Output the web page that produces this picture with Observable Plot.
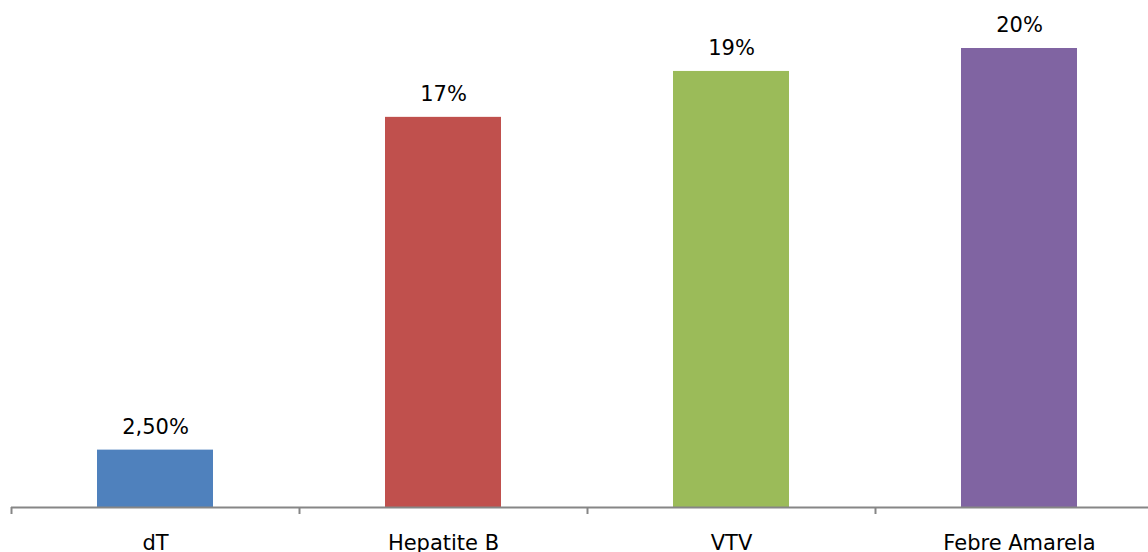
<!DOCTYPE html>
<html>
<head>
<meta charset="utf-8">
<script src="https://cdn.jsdelivr.net/npm/d3@7"></script>
<script src="https://cdn.jsdelivr.net/npm/@observablehq/plot@0.6"></script>
<style>
  html, body { margin: 0; padding: 0; background: #fff; }
  #chart svg { display: block; }
</style>
</head>
<body>
<div id="chart"></div>
<script>
const categories = ["dT", "Hepatite B", "VTV", "Febre Amarela"];
const values = [0.025, 0.17, 0.19, 0.20];
const valueLabels = ["2,50%", "17%", "19%", "20%"];
const colors = ["#4F81BD", "#C0504D", "#9BBB59", "#8064A2"];

const data = categories.map((c, i) => ({category: c, value: values[i], label: valueLabels[i]}));

const W = 1148, H = 552;
const xRange = [11, 1163];
const step = (xRange[1] - xRange[0]) / categories.length;

const chart = Plot.plot({
  width: W,
  height: H,
  marginLeft: 11,
  marginRight: 0,
  marginTop: 48,
  marginBottom: 45,
  style: {fontFamily: "DejaVu Sans, Verdana, sans-serif", fontSize: "21px", color: "#000", background: "#fff"},
  x: {domain: categories, range: xRange, paddingInner: 0.597, paddingOuter: 0.2985, label: null},
  y: {domain: [0, 0.2], axis: null, nice: false},
  color: {domain: categories, range: colors},
  marks: [
    Plot.barY(data, {x: "category", y: "value", fill: "category"}),
    Plot.ruleY([0], {stroke: "#868686", strokeWidth: 2}),
    Plot.ruleX(categories, {x: d => d, y1: 0, y2: 0, insetBottom: -7, dx: -step / 2, stroke: "#868686", strokeWidth: 2}),
    Plot.text(data, {x: "category", y: "value", text: "label", lineAnchor: "bottom", dy: -16.5, fontSize: 21, fill: "#000"}),
    Plot.axisX({tickSize: 0, tickPadding: 28, fontSize: 21, label: null, fill: "#000"})
  ]
});
document.getElementById("chart").appendChild(chart);
</script>
</body>
</html>
